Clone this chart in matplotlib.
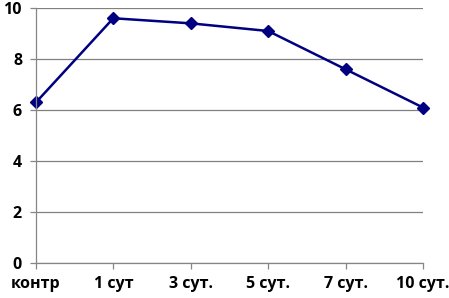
import matplotlib.pyplot as plt

# данные
labels = ['контр', '1 сут', '3 сут.', '5 сут.', '7 сут.', '10 сут.']
values = [6.3, 9.6, 9.4, 9.1, 7.6, 6.1]
yticks = [0, 2, 4, 6, 8, 10]

plt.rcParams['font.family'] = ['Open Sans', 'DejaVu Sans']

fig = plt.figure(figsize=(4.49, 2.98), dpi=100)
ax = fig.add_axes([0.080, 0.117, 0.862, 0.856])

x = list(range(len(labels)))
ax.plot(x, values, color='#000080', linewidth=1.8, marker='D', markersize=6, clip_on=False)

ax.set_xlim(0, len(labels) - 1)
ax.set_ylim(0, 10)
ax.set_yticks(yticks)
ax.set_xticks(x)
ax.set_xticklabels(labels)
ax.grid(axis='y', color='#808080', linewidth=0.9)
ax.set_axisbelow(True)

for s in ['top', 'right']:
    ax.spines[s].set_visible(False)
for s in ['left', 'bottom']:
    ax.spines[s].set_color('#868686')
    ax.spines[s].set_linewidth(0.9)

ax.tick_params(axis='both', colors='#868686', length=4, width=0.9, labelcolor='black',
               labelsize=11.5)
ax.tick_params(axis='x', pad=5)
ax.tick_params(axis='y', pad=6)
for t in ax.get_xticklabels() + ax.get_yticklabels():
    t.set_fontweight('bold')

fig.savefig('out.png', dpi=100)
